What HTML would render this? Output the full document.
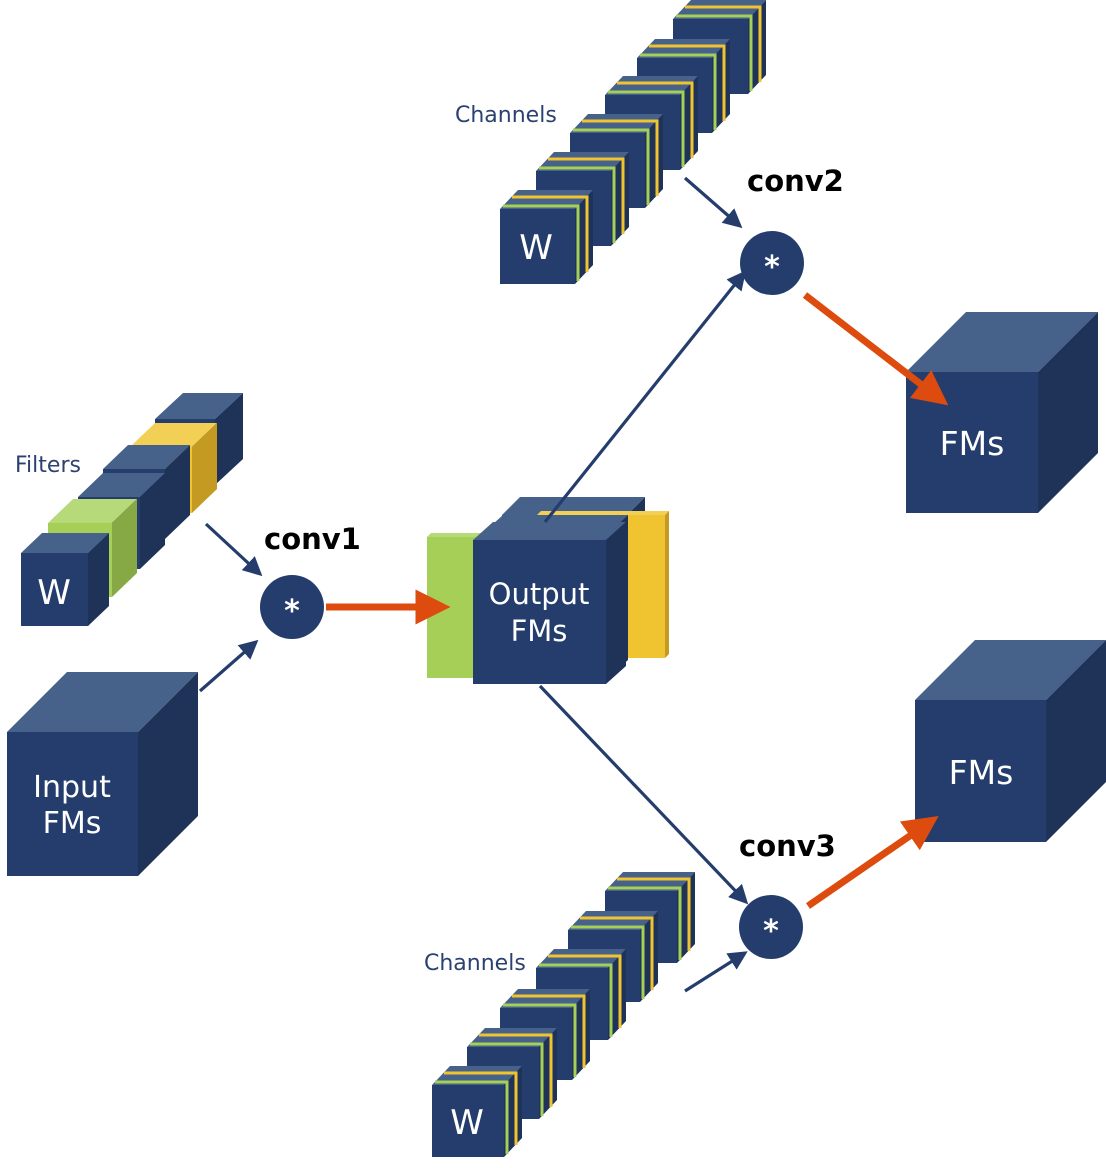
<!DOCTYPE html>
<html><head><meta charset="utf-8"><style>
html,body{margin:0;padding:0;background:#fff;}
svg{display:block;}
.lbl{font-family:"DejaVu Sans","Liberation Sans",sans-serif;fill:#fff;}
.cap{font-family:"DejaVu Sans","Liberation Sans",sans-serif;fill:#2b4270;font-size:22px;}
.conv{font-family:"DejaVu Sans","Liberation Sans",sans-serif;font-weight:bold;fill:#000;font-size:29px;}
</style></head><body>
<svg id="s" width="1106" height="1168" viewBox="0 0 1106 1168" xmlns="http://www.w3.org/2000/svg">
<defs>
<marker id="an" markerWidth="6" markerHeight="6" refX="5" refY="3" orient="auto" markerUnits="strokeWidth"><path d="M0,0 L6,3 L0,6 Z" fill="#243d6d"/></marker>
<marker id="ao" markerWidth="5" markerHeight="5" refX="3.5" refY="2.5" orient="auto" markerUnits="strokeWidth"><path d="M0,0 L5,2.5 L0,5 Z" fill="#dd4b0f"/></marker>
</defs>
<g id="shapes"></g>
<g id="lines" stroke="#243d6d" stroke-width="3.2" fill="none">
<line x1="206" y1="524" x2="260" y2="574" marker-end="url(#an)"/>
<line x1="200" y1="691" x2="256" y2="642" marker-end="url(#an)"/>
<line x1="685" y1="178" x2="740" y2="226" marker-end="url(#an)"/>
<line x1="545" y1="522" x2="744" y2="273" marker-end="url(#an)"/>
<line x1="540" y1="686" x2="746" y2="902" marker-end="url(#an)"/>
<line x1="685" y1="991" x2="745" y2="953" marker-end="url(#an)"/>
</g>
<g stroke="#dd4b0f" stroke-width="7" fill="none">
<line x1="326" y1="607" x2="440" y2="607" marker-end="url(#ao)"/>
<line x1="805" y1="295" x2="940" y2="399" marker-end="url(#ao)"/>
<line x1="808" y1="906" x2="930" y2="822" marker-end="url(#ao)"/>
</g>
<g fill="#243d6d">
<circle cx="292" cy="607" r="32"/><circle cx="772" cy="263" r="32"/><circle cx="771" cy="927" r="32"/>
</g>
<g class="lbl" font-size="30" font-weight="bold" text-anchor="middle">
<text x="292" y="621">*</text><text x="772" y="277">*</text><text x="771" y="941">*</text>
</g>
<text class="conv" x="264" y="549">conv1</text>
<text class="conv" x="747" y="191">conv2</text>
<text class="conv" x="739" y="856">conv3</text>
<text class="cap" x="15" y="472">Filters</text>
<text class="cap" x="455" y="122">Channels</text>
<text class="cap" x="424" y="970">Channels</text>
<g class="lbl" text-anchor="middle">
<text x="54" y="604" font-size="34">W</text>
<text x="536" y="259" font-size="34">W</text>
<text x="467" y="1134" font-size="34">W</text>
<text x="972" y="455" font-size="33">FMs</text>
<text x="981" y="784" font-size="33">FMs</text>
<text x="72" y="797" font-size="30">Input</text>
<text x="72" y="833" font-size="30">FMs</text>
<text x="539" y="604" font-size="29">Output</text>
<text x="539" y="641" font-size="29">FMs</text>
</g>
</svg>
<script>
var g=document.getElementById('shapes'),h='';
var NV=['#243d6d','#46628a','#1f3359'],YE=['#f0c330','#f2cf55','#c49a22'],GR=['#a6cf58','#b6d97a','#86a845'];
function cube(x,y,w,hh,dx,dy,c){
 h+='<polygon points="'+x+','+y+' '+(x+dx)+','+(y-dy)+' '+(x+w+dx)+','+(y-dy)+' '+(x+w)+','+y+'" fill="'+c[1]+'"/>';
 h+='<polygon points="'+(x+w)+','+y+' '+(x+w+dx)+','+(y-dy)+' '+(x+w+dx)+','+(y+hh-dy)+' '+(x+w)+','+(y+hh)+'" fill="'+c[2]+'"/>';
 h+='<rect x="'+x+'" y="'+y+'" width="'+w+'" height="'+hh+'" fill="'+c[0]+'"/>';
}
function strip(x,y,w,hh,o,col){
 h+='<path d="M'+(x+o)+','+(y-o)+' L'+(x+w+o)+','+(y-o)+' L'+(x+w+o)+','+(y+hh-o)+'" stroke="'+col+'" stroke-width="3" fill="none"/>';
}
function unit(x,y,w,hh){
 cube(x,y,w,hh,18,19,NV);
 strip(x,y,w,hh,12,'#f0c330');
 strip(x,y,w,hh,3,'#a6cf58');
 h+='<rect x="'+x+'" y="'+y+'" width="'+w+'" height="'+hh+'" fill="#243d6d"/>';
}
cube(906,372,132,141,60,60,NV);
cube(915,700,131,142,60,60,NV);
cube(7,732,131,144,60,60,NV);
cube(155,419,60,66,28,26,NV);
cube(130,447,62,66,25,24,YE);
cube(103,469,62,70,25,24,NV);
cube(78,497,62,72,25,24,NV);
cube(48,523,64,74,25,24,GR);
cube(21,553,67,73,21,20,NV);
[[673,19],[637,58],[605,95],[570,133],[536,171],[500,209]].forEach(function(p){unit(p[0],p[1],75,75);});
[[605,891],[568,930],[536,968],[500,1008],[467,1047],[432,1085]].forEach(function(p){unit(p[0],p[1],72,72);});
cube(502,515,125,140,18,18,NV);
cube(537,515,128,143,4,4,YE);
cube(427,537,60,141,4,4,GR);
cube(483,533,125,145,20,18,NV);
cube(473,540,133,144,20,18,NV);
g.innerHTML=h;
</script>
</body></html>
